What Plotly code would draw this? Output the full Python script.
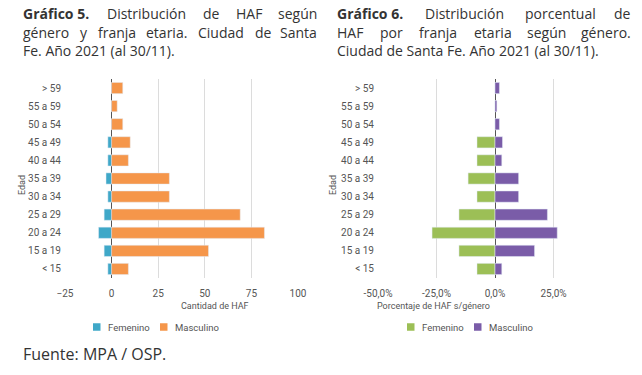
import plotly.graph_objects as go

# Data (bottom to top)
edades = ["< 15", "15 a 19", "20 a 24", "25 a 29", "30 a 34", "35 a 39",
          "40 a 44", "45 a 49", "50 a 54", "55 a 59", "> 59"]
fem_cant = [2, 4, 7, 4, 2, 3, 2, 2, 0, 0, 0]
masc_cant = [9, 52, 82, 69, 31, 31, 9, 10, 6, 3, 6]
fem_pct = [7.7, 15.4, 26.9, 15.4, 7.7, 11.5, 7.7, 7.7, 0.0, 0.0, 0.0]
masc_pct = [2.9, 16.9, 26.6, 22.4, 10.1, 10.1, 2.9, 3.2, 1.9, 0.8, 1.9]

cant_ticks = [-25, 0, 25, 50, 75, 100]
pct_ticks = [-50, -25, 0, 25, 50]
pct_ticktext = ["-50,0%", "-25,0%", "0,0%", "25,0%", ""]

W, H = 642, 375
def px(x): return x / W
def py(y): return 1 - y / H

C_TEAL = "#3fa8c8"
C_ORANGE = "#f5964a"
C_GREEN = "#9cbf56"
C_PURPLE = "#7a5ca8"
TXT = "#555555"
FONT = "Roboto"

fig = go.Figure()
fig.add_bar(y=edades, x=[-v for v in fem_cant], orientation="h", name="Femenino",
            marker_color=C_TEAL, xaxis="x", yaxis="y",
            customdata=fem_cant, hovertemplate="%{y}: %{customdata}<extra>Femenino</extra>")
fig.add_bar(y=edades, x=masc_cant, orientation="h", name="Masculino",
            marker_color=C_ORANGE, xaxis="x", yaxis="y")
fig.add_bar(y=edades, x=[-v for v in fem_pct], orientation="h", name="Femenino",
            marker_color=C_GREEN, xaxis="x2", yaxis="y2",
            customdata=fem_pct, hovertemplate="%{y}: %{customdata}%<extra>Femenino</extra>")
fig.add_bar(y=edades, x=masc_pct, orientation="h", name="Masculino",
            marker_color=C_PURPLE, xaxis="x2", yaxis="y2")

axis_common = dict(showgrid=True, gridcolor="#dcdcdc", gridwidth=1,
                   zeroline=True, zerolinecolor="#555555", zerolinewidth=1,
                   showline=False, ticks="", automargin=False, ticklabelstandoff=8,
                   tickfont=dict(family=FONT, size=10, color=TXT))
yaxis_common = dict(type="category", categoryorder="array", categoryarray=edades,
                    showgrid=False, zeroline=False, showline=False, ticks="",
                    automargin=False,
                    tickfont=dict(family=FONT, size=10, color=TXT),
                    domain=[py(278), py(79)], ticklabelstandoff=3)

fig.update_layout(
    width=W, height=H, margin=dict(l=0, r=0, t=0, b=0, autoexpand=False),
    paper_bgcolor="white", plot_bgcolor="white",
    barmode="relative", bargap=0.38, showlegend=False,
    font=dict(family=FONT, color=TXT),
    xaxis=dict(**axis_common, domain=[px(65), px(298)], range=[-25, 100],
               tickvals=cant_ticks, anchor="y"),
    yaxis=dict(**yaxis_common, anchor="x"),
    xaxis2=dict(**axis_common, domain=[px(378), px(612)], range=[-50, 50],
                tickvals=pct_ticks, ticktext=pct_ticktext, anchor="y2"),
    yaxis2=dict(**yaxis_common, anchor="x2"),
)

ann = []
shapes = []
# axis titles
ann.append(dict(text="Cantidad de HAF", x=px(179), y=py(313), xref="paper", yref="paper",
                showarrow=False, font=dict(family=FONT, size=9, color=TXT)))
ann.append(dict(text="Porcentaje de HAF s/género", x=px(492), y=py(313), xref="paper", yref="paper",
                showarrow=False, font=dict(family=FONT, size=9, color=TXT)))
ann.append(dict(text="Edad", x=px(15), y=py(185), xref="paper", yref="paper", textangle=-90,
                showarrow=False, font=dict(family=FONT, size=9, color=TXT)))
ann.append(dict(text="Edad", x=px(333), y=py(185), xref="paper", yref="paper", textangle=-90,
                showarrow=False, font=dict(family=FONT, size=9, color=TXT)))

# manual legends (swatch + label)
legend_items = [(93, C_TEAL, "Femenino"), (160, C_ORANGE, "Masculino"),
                (407, C_GREEN, "Femenino"), (474, C_PURPLE, "Masculino")]
LY = 327
for lx, col, lab in legend_items:
    shapes.append(dict(type="rect", xref="paper", yref="paper",
                       x0=px(lx), x1=px(lx + 7.5), y0=py(LY + 3.75), y1=py(LY - 3.75),
                       fillcolor=col, line=dict(width=0)))
    ann.append(dict(text=lab, x=px(lx + 13), y=py(LY), xref="paper", yref="paper",
                    xanchor="left", yanchor="middle", showarrow=False,
                    font=dict(family=FONT, size=9.5, color=TXT)))

# Titles with justified lines
TS = 14
TFONT = dict(family="Open Sans", size=TS, color="#333333")
EM = {" ": 0.26, ".": 0.266, "(": 0.295, ")": 0.295, "/": 0.367,
      "0": 0.572, "1": 0.572, "2": 0.572, "3": 0.572, "5": 0.572, "6": 0.572,
      "A": 0.633, "C": 0.631, "D": 0.722, "F": 0.545, "G": 0.722, "H": 0.738, "S": 0.549,
      "a": 0.556, "á": 0.556, "b": 0.613, "c": 0.476, "d": 0.613, "e": 0.561, "é": 0.561,
      "f": 0.339, "g": 0.548, "i": 0.253, "j": 0.253, "l": 0.253, "n": 0.614, "ñ": 0.614,
      "o": 0.604, "ó": 0.604, "p": 0.613, "r": 0.408, "s": 0.477, "t": 0.353,
      "u": 0.614, "ú": 0.614, "y": 0.501, "m": 0.93}

def word_w(w, bold=False):
    return sum(EM.get(ch, 0.55) for ch in w) * TS * (1.08 if bold else 1.0)

def justified(words, x0, x1, yline, first_bold=True):
    widths = [word_w(w, first_bold and i == 0) for i, w in enumerate(words)]
    gap = (x1 - x0 - sum(widths)) / (len(words) - 1)
    x = x0
    for i, w in enumerate(words):
        txt = f"<b>{w}</b>" if (first_bold and i == 0) else w
        if i == len(words) - 1:
            ann.append(dict(text=txt, x=px(x1), y=py(yline), xref="paper", yref="paper",
                            xanchor="right", yanchor="middle", showarrow=False,
                            font=TFONT, borderpad=0))
        else:
            ann.append(dict(text=txt, x=px(x), y=py(yline), xref="paper", yref="paper",
                            xanchor="left", yanchor="middle", showarrow=False,
                            font=TFONT, borderpad=0))
        x += widths[i] + gap

def plain(text, x0, yline):
    ann.append(dict(text=text, x=px(x0), y=py(yline), xref="paper", yref="paper",
                    xanchor="left", yanchor="middle", showarrow=False, font=TFONT,
                    borderpad=0))

justified(["Gráfico 5.", "Distribución", "de", "HAF", "según"], 22, 318, 14)
justified(["género", "y", "franja", "etaria.", "Ciudad", "de", "Santa"], 22, 318, 32.3, False)
plain("Fe. Año 2021 (al 30/11).", 22, 50.6)
justified(["Gráfico 6.", "Distribución", "porcentual", "de"], 336, 632, 14)
justified(["HAF", "por", "franja", "etaria", "según", "género."], 336, 632, 32.3, False)
plain("Ciudad de Santa Fe. Año 2021 (al 30/11).", 336, 50.6)

ann.append(dict(text="Fuente: MPA / OSP.", x=px(21), y=py(354), xref="paper", yref="paper",
                xanchor="left", yanchor="middle", showarrow=False,
                font=dict(family="Open Sans", size=16, color="#333333")))
fig.update_layout(annotations=ann, shapes=shapes)

fig.write_html("out.html", config={"displayModeBar": False},
               post_script="document.body.style.margin='0';")
